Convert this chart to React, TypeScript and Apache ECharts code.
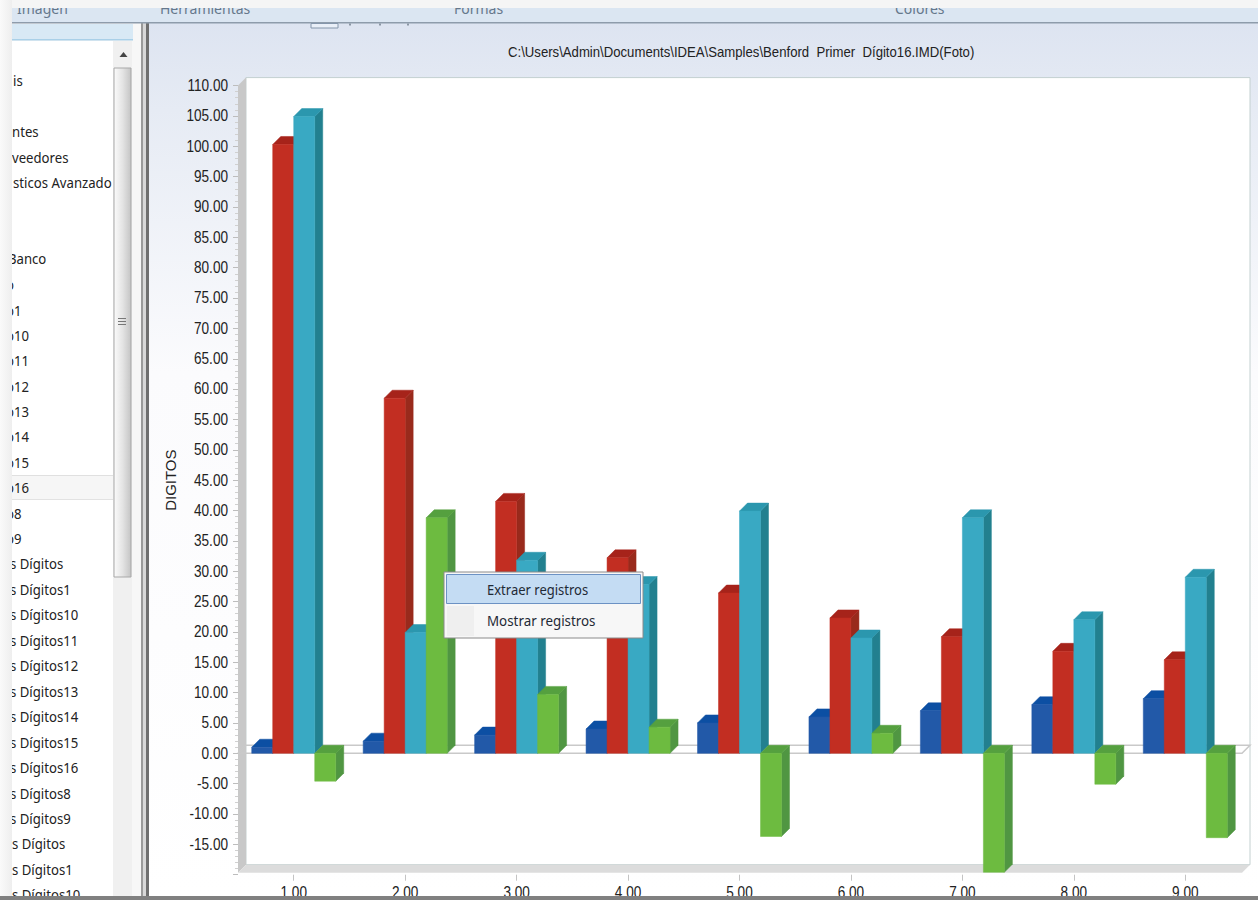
import React, { useEffect, useRef } from "react";
import * as echarts from "echarts";

// Digit categories along the horizontal axis
const digits = ["1.00", "2.00", "3.00", "4.00", "5.00", "6.00", "7.00", "8.00", "9.00"];

// Labelled ticks of the vertical axis
const yTicks = [110, 105, 100, 95, 90, 85, 80, 75, 70, 65, 60, 55, 50, 45, 40, 35, 30, 25, 20, 15, 10, 5, 0, -5, -10, -15];

// Series values per digit
const blueValues = [1, 2, 3, 4, 5, 6, 7, 8, 9];
const redValues = [100.3, 58.5, 41.5, 32.2, 26.4, 22.3, 19.2, 16.8, 15.4];
const tealValues = [104.9, 19.9, 31.8, 27.8, 39.9, 19.0, 38.8, 22.0, 29.0];
const greenValues = [-4.6, 38.8, 9.7, 4.3, -13.7, 3.3, -19.6, -5.1, -13.9];

// Text of the surrounding application window
const chartTitle = "C:\\Users\\Admin\\Documents\\IDEA\\Samples\\Benford  Primer  Dígito16.IMD(Foto)";
const axisName = "DIGITOS";
const ribbonTabs: [string, number][] = [["Imagen", 17], ["Herramientas", 160], ["Formas", 454], ["Colores", 895]];
const menuItems = ["Extraer registros", "Mostrar registros"];
const listRows: [string, number, number][] = [
  ["is", 13, 80], ["ntes", 12, 131], ["veedores", 12, 157], ["sticos Avanzado", 13, 182],
  ["Banco", 8, 258], ["o", 6, 284], ["o1", 6, 310], ["o10", 6, 335], ["o11", 6, 360],
  ["o12", 6, 386], ["o13", 6, 411], ["o14", 6, 436], ["o15", 6, 462], ["o16", 6, 487],
  ["o8", 6, 513], ["o9", 6, 538], ["s Dígitos", 10, 563], ["s Dígitos1", 10, 589],
  ["s Dígitos10", 10, 614], ["s Dígitos11", 10, 640], ["s Dígitos12", 10, 665],
  ["s Dígitos13", 10, 691], ["s Dígitos14", 10, 716], ["s Dígitos15", 10, 742],
  ["s Dígitos16", 10, 767], ["s Dígitos8", 10, 793], ["s Dígitos9", 10, 818],
  ["s Dígitos", 12, 843], ["s Dígitos1", 12, 869], ["s Dígitos10", 12, 894],
];

const SANS = '"Liberation Sans", sans-serif';
const UI_FONT = '"Noto Sans", sans-serif';

// Plot geometry: front plane of the box and the depth of the 3D effect
const LEFT = 238;
const WIDTH = 1003;
const TOP = 85.6;
const HEIGHT = 789.1;
const DEPTH = 8;
const ZERO_Y = 753.3;
const FLOOR_Y = 872.7;
const BAR_WIDTH = 21;
const Y_MIN = -20;
const LABEL_SQUEEZE = 0.85;
const UI_SQUEEZE = 0.94;

type Palette = { face: string; side: string; top: string };

const palettes: Palette[] = [
  { face: "#2259a8", side: "#154a90", top: "#0c4fa3" },
  { face: "#c22e22", side: "#992a1c", top: "#a6231a" },
  { face: "#39a9c3", side: "#22808f", top: "#2b97ae" },
  { face: "#6dbb40", side: "#509642", top: "#55a03f" },
];

// Draws one bar as a cuboid: front face, right side and top
const cuboid = (seriesPos: number, palette: Palette) => (_params: any, api: any) => {
  const cat = api.value(0);
  const val = api.value(1);
  const [cx, yVal] = api.coord([cat, val]);
  const [, yBase] = api.coord([cat, 0]);
  const x0 = cx + (seriesPos - 2) * BAR_WIDTH;
  const x1 = x0 + BAR_WIDTH;
  const yHigh = Math.min(yVal, yBase);
  const yLow = Math.max(yVal, yBase);
  const poly = (points: number[][], fill: string) => ({
    type: "polygon",
    shape: { points },
    style: { fill, stroke: fill, lineWidth: 0.5 },
  });
  return {
    type: "group",
    children: [
      poly([[x1, yHigh], [x1 + DEPTH, yHigh - DEPTH], [x1 + DEPTH, yLow - DEPTH], [x1, yLow]], palette.side),
      poly([[x0, yHigh], [x0 + DEPTH, yHigh - DEPTH], [x1 + DEPTH, yHigh - DEPTH], [x1, yHigh]], palette.top),
      poly([[x0, yHigh], [x1, yHigh], [x1, yLow], [x0, yLow]], palette.face),
    ],
  };
};

const barSeries = (name: string, values: number[], pos: number) => ({
  type: "custom",
  name,
  coordinateSystem: "cartesian2d",
  clip: false,
  encode: { x: 0, y: 1 },
  data: values.map((v, i) => [i, v]),
  renderItem: cuboid(pos, palettes[pos]),
});

// Condensed tick labels, placed through the axes' own scales
const condensedText = (text: string, x: number, y: number, align: string) => ({
  type: "text",
  x,
  y,
  scaleX: LABEL_SQUEEZE,
  style: { text, fill: "#222222", fontFamily: SANS, fontSize: 16, align, verticalAlign: "middle" },
});

const yLabelSeries = {
  type: "custom",
  name: "yLabels",
  coordinateSystem: "cartesian2d",
  clip: false,
  silent: true,
  encode: { x: 0, y: 1 },
  data: yTicks.map((v) => [0, v]),
  renderItem: (_p: any, api: any) => {
    const v = api.value(1);
    return condensedText(v.toFixed(2), 228, api.coord([0, v])[1], "right");
  },
};

const xLabelSeries = {
  type: "custom",
  name: "xLabels",
  coordinateSystem: "cartesian2d",
  clip: false,
  silent: true,
  encode: { x: 0, y: 1 },
  data: digits.map((_, i) => [i, Y_MIN]),
  renderItem: (_p: any, api: any) => {
    const i = api.value(0);
    return condensedText(digits[i], api.coord([i, Y_MIN])[0], 893, "center");
  },
};

const rect = (x: number, y: number, width: number, height: number, fill: any, z: number, stroke?: string) => ({
  type: "rect",
  z,
  shape: { x, y, width, height },
  style: { fill, stroke: stroke ?? "none", lineWidth: stroke ? 1 : 0 },
});

const label = (text: string, x: number, y: number, font: string, size: number, fill: string, z: number, scaleX = 1) => ({
  type: "text",
  z,
  x,
  y,
  scaleX,
  style: { text, fill, fontFamily: font, fontSize: size, verticalAlign: "middle" },
});

const vGrad = (stops: [number, string][]) =>
  new echarts.graphic.LinearGradient(0, 0, 0, 1, stops.map(([offset, color]) => ({ offset, color })));
const hGrad = (stops: [number, string][]) =>
  new echarts.graphic.LinearGradient(0, 0, 1, 0, stops.map(([offset, color]) => ({ offset, color })));

function windowChrome() {
  const backL = LEFT + DEPTH;
  const backR = LEFT + WIDTH + DEPTH + 1;
  const backT = TOP - DEPTH;
  const backB = FLOOR_Y - DEPTH;
  const frontR = LEFT + WIDTH + 1;
  const els: any[] = [
    // Chart panel and plot box
    rect(149, 22, 1109, 876, vGrad([[0, "#dde4f1"], [0.1, "#e6ebf4"], [0.4, "#fbfbfd"], [1, "#ffffff"]]), -20),
    rect(backL, backT, backR - backL, backB - backT, "#ffffff", -15, "#c3d0d0"),
    { type: "polygon", z: -14, shape: { points: [[LEFT, TOP], [backL, backT], [backL, backB], [LEFT, FLOOR_Y]] }, style: { fill: "#c8c8c8" } },
    { type: "polygon", z: -14, shape: { points: [[LEFT, FLOOR_Y], [backL, backB], [backR, backB], [frontR, FLOOR_Y]] }, style: { fill: "#dcdcdc" } },
    { type: "polygon", z: -13, shape: { points: [[LEFT, ZERO_Y], [backL, ZERO_Y - DEPTH], [backR, ZERO_Y - DEPTH], [frontR, ZERO_Y]] }, style: { fill: "none", stroke: "#c9c9c9", lineWidth: 1.5 } },

    // Sidebar
    rect(12, 22, 130, 876, "#f7f7f7", -20),
    rect(12, 24, 121, 16, "#d8e9f5", -19),
    rect(12, 39, 121, 1.5, "#a9d0e8", -18),
    rect(12, 41, 101, 857, "#ffffff", -19),
    rect(113, 41, 19, 857, "#f0f0f0", -19),
    rect(12, 475, 101, 24, "#f6f6f6", -18),
    rect(12, 475, 101, 0.8, "#d8d8d8", -17),
    rect(12, 499, 101, 0.8, "#d8d8d8", -17),
    { type: "polygon", z: -17, shape: { points: [[119.5, 57], [123.5, 52], [127.5, 57]] }, style: { fill: "#444444" } },
    rect(114, 68, 17, 509, hGrad([[0, "#fbfbfb"], [0.5, "#e4e4e4"], [1, "#c4c4c4"]]), -17, "#a8a8a8"),
    rect(118, 318, 8, 1, "#777777", -16),
    rect(118, 321, 8, 1, "#777777", -16),
    rect(118, 324, 8, 1, "#777777", -16),

    // Pane separator
    rect(141, 22, 2, 876, "#9a9a9a", -16),
    rect(143, 22, 3, 876, "#d8d8d8", -16),
    rect(146, 22, 3, 876, "#6f6f6f", -16),

    // Ribbon along the top edge
    rect(12, 8, 1246, 14, "#dbe6f2", -12),
    rect(12, 22, 1246, 1.5, "#8e9cab", -11),
    rect(311, 23.5, 27, 4.5, "#e9eff8", -10, "#8496ab"),
    rect(349, 23.5, 2, 2, "#8a96a4", -10),
    rect(379, 23.5, 2, 2, "#8a96a4", -10),
    rect(407, 23.5, 2, 2, "#8a96a4", -10),
    ...ribbonTabs.map(([t, x]) => label(t, x, 8, UI_FONT, 14, "#66788c", -9)),

    // Masks that crop text at the window edges
    rect(0, 0, 1258, 8, "#f5f5f5", 40),
    rect(0, 0, 12, 896, hGrad([[0, "#fafafa"], [1, "#eeeeee"]]), 40),
    rect(0, 896, 1258, 4, "#808080", 41),

    // Chart title
    label(chartTitle, 508, 52, SANS, 14, "#222222", 10, 0.94),

    // Context menu
    rect(444, 572, 199, 66, "#f7f7f7", 60, "#8a8a8a"),
    rect(447, 606, 27, 30, "#efefef", 61),
    rect(446.5, 574.5, 194, 29, "#c4dcf3", 62, "#6c92c4"),
    label(menuItems[0], 487, 589.5, UI_FONT, 14, "#1f2a36", 63, 0.93),
    label(menuItems[1], 487, 620.5, UI_FONT, 14, "#1f2a36", 63, 0.955),
  ];
  for (const [t, x, y] of listRows) {
    els.push(label(t, x, y, UI_FONT, 14, "#222222", 5, UI_SQUEEZE));
  }
  return els;
}

export default function App() {
  const ref = useRef<HTMLDivElement>(null);

  useEffect(() => {
    const chart = echarts.init(ref.current!, undefined, { renderer: "svg" });
    chart.setOption({
      animation: false,
      backgroundColor: "#ffffff",
      grid: { left: LEFT, top: TOP, width: WIDTH, height: HEIGHT, containLabel: false },
      xAxis: {
        type: "category",
        data: digits,
        axisLine: { show: false, onZero: false },
        axisTick: { show: true, alignWithLabel: true, length: 6, lineStyle: { color: "#c4c4c4" } },
        axisLabel: { show: false },
        splitLine: { show: false },
      },
      yAxis: {
        type: "value",
        min: Y_MIN,
        max: 110,
        interval: 5,
        name: axisName,
        nameLocation: "middle",
        nameRotate: 90,
        nameGap: 60,
        nameTextStyle: { color: "#222222", fontFamily: SANS, fontSize: 15 },
        axisLine: { show: false },
        axisTick: { show: true, length: 5, lineStyle: { color: "#bdbdbd" } },
        minorTick: { show: true, splitNumber: 5, length: 3, lineStyle: { color: "#d0d0d0" } },
        minorSplitLine: { show: false },
        splitLine: { show: false },
        axisLabel: { show: false },
      },
      graphic: { elements: windowChrome() },
      series: [
        barSeries("Blue", blueValues, 0),
        barSeries("Red", redValues, 1),
        barSeries("Teal", tealValues, 2),
        barSeries("Green", greenValues, 3),
        yLabelSeries,
        xLabelSeries,
      ],
    });
    return () => chart.dispose();
  }, []);

  return <div ref={ref} style={{ position: "fixed", left: 0, top: 0, width: 1258, height: 900 }} />;
}
